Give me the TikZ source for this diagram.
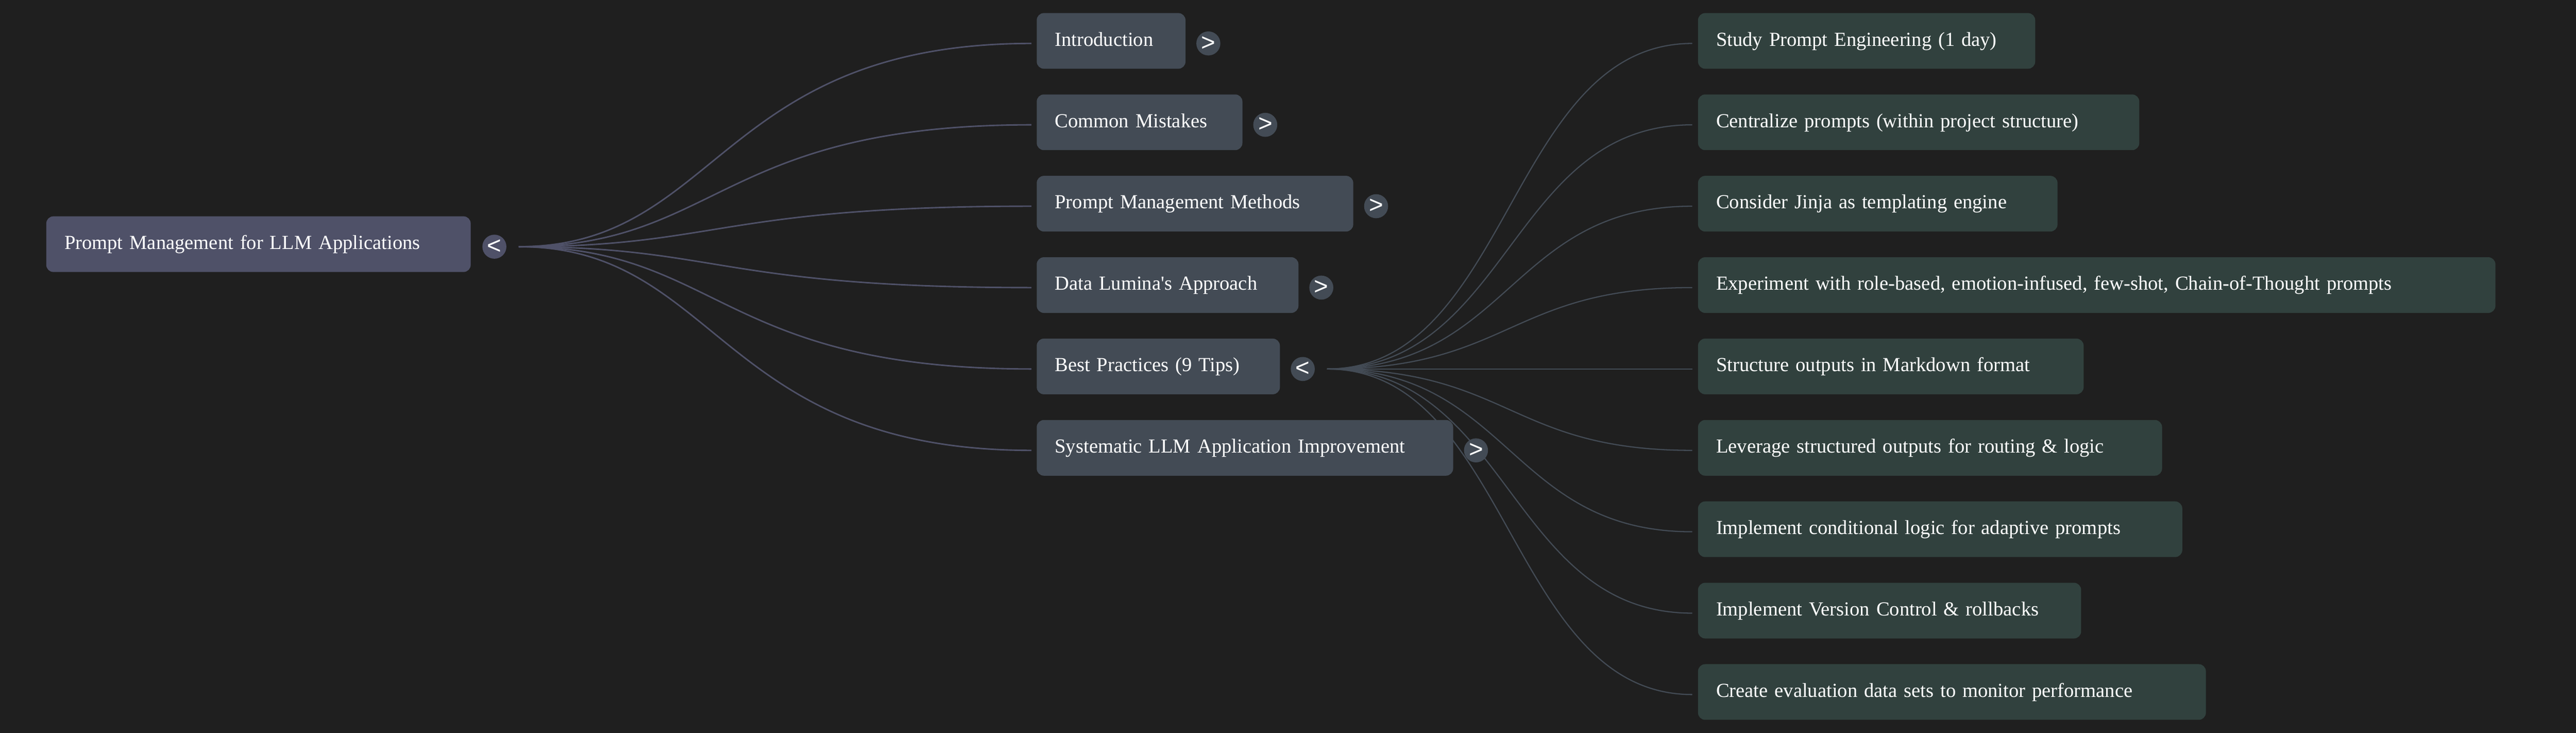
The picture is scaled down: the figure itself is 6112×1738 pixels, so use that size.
\documentclass[tikz,border=0pt]{standalone}
\usepackage{fontspec}
\setmainfont{Liberation Serif}
\newfontfamily\togfont{Liberation Sans}
\definecolor{bgc}{HTML}{1F1F1F}
\definecolor{rootc}{HTML}{4F5168}
\definecolor{lonec}{HTML}{434B55}
\definecolor{ltwoc}{HTML}{31413E}
\pgfdeclarelayer{bgl}
\pgfdeclarelayer{edges}
\pgfsetlayers{bgl,edges,main}
\begin{document}
\begin{tikzpicture}[x=0.25pt,y=-0.25pt,
  box/.style={anchor=west, rounded corners=4.25pt, inner xsep=10.75pt, inner ysep=0pt,
    minimum height=33pt, text height=9pt, text depth=3pt, align=left, text=white,
    font=\fontsize{11.8}{14.2}\selectfont},
  rootbox/.style={box, fill=rootc},
  lonebox/.style={box, fill=lonec},
  ltwobox/.style={box, fill=ltwoc},
  tog/.style={circle, inner sep=0pt, minimum size=14.25pt, text=white,
    font=\togfont\fontsize{14.5}{14.5}\selectfont},
  rootlink/.style={draw=rootc, line width=0.875pt},
  lonelink/.style={draw=lonec, line width=0.7pt},
]
\begin{pgfonlayer}{bgl}
  \fill[bgc] (0,0) rectangle (6112,1738);
\end{pgfonlayer}
\useasboundingbox (0,0) rectangle (6112,1738);

% root
\node[rootbox, text width=230.25pt] (root) at (109,579) {Prompt Management for LLM Applications};
\node[tog, fill=rootc] (troot) at (1173,585) {<};

% level 1
\node[lonebox, text width=66.75pt]  (a1) at (2459,97)   {Introduction};
\node[lonebox, text width=100.5pt]  (a2) at (2459,290)  {Common Mistakes};
\node[lonebox, text width=166.25pt] (a3) at (2459,483)  {Prompt Management Methods};
\node[lonebox, text width=133.75pt] (a4) at (2459,676)  {Data Lumina\textquotesingle s Approach};
\node[lonebox, text width=122.75pt] (a5) at (2459,869)  {Best Practices (9 Tips)};
\node[lonebox, text width=225.5pt]  (a6) at (2459,1062) {Systematic LLM Application Improvement};

\node[tog, fill=lonec] (ta1) at (2867,103)  {>};
\node[tog, fill=lonec] (ta2) at (3002,296)  {>};
\node[tog, fill=lonec] (ta3) at (3265,489)  {>};
\node[tog, fill=lonec] (ta4) at (3135,682)  {>};
\node[tog, fill=lonec] (ta5) at (3091,875)  {<};
\node[tog, fill=lonec] (ta6) at (3502,1068) {>};

% level 2
\node[ltwobox, text width=178.5pt]  (b1) at (4028,97)   {Study Prompt Engineering (1 day)};
\node[ltwobox, text width=240.25pt] (b2) at (4028,290)  {Centralize prompts (within project structure)};
\node[ltwobox, text width=191.75pt] (b3) at (4028,483)  {Consider Jinja as templating engine};
\node[ltwobox, text width=451.5pt]  (b4) at (4028,676)  {Experiment with role-based, emotion-infused, few-shot, Chain-of-Thought prompts};
\node[ltwobox, text width=207.25pt] (b5) at (4028,869)  {Structure outputs in Markdown format};
\node[ltwobox, text width=253.75pt] (b6) at (4028,1062) {Leverage structured outputs for routing \& logic};
\node[ltwobox, text width=265.75pt] (b7) at (4028,1255) {Implement conditional logic for adaptive prompts};
\node[ltwobox, text width=205.75pt] (b8) at (4028,1448) {Implement Version Control \& rollbacks};
\node[ltwobox, text width=279.75pt] (b9) at (4028,1641) {Create evaluation data sets to monitor performance};

\begin{pgfonlayer}{edges}
  \foreach \n in {a1,a2,a3,a4,a5,a6}{
    \draw[rootlink] ([xshift=7.125pt]troot.east) .. controls +(118.75pt,0) and +(-185.5pt,0) .. ([xshift=-3pt,yshift=-1.5pt]\n.west);
  }
  \foreach \n in {b1,b2,b3,b4,b5,b6,b7,b8,b9}{
    \draw[lonelink] ([xshift=7.125pt]ta5.east) .. controls +(108.4pt,0) and +(-108.4pt,0) .. ([xshift=-3.25pt,yshift=-1.5pt]\n.west);
  }
\end{pgfonlayer}
\end{tikzpicture}
\end{document}
